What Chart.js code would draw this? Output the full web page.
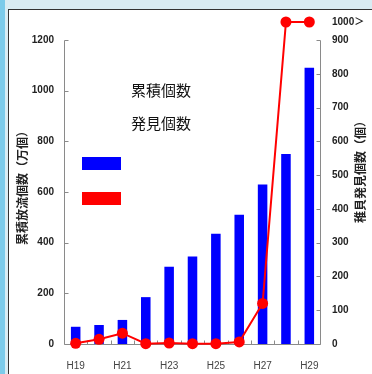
<!DOCTYPE html>
<html>
<head>
<meta charset="utf-8">
<script src="https://cdn.jsdelivr.net/npm/chart.js@4"></script>
<style>
  html, body { margin: 0; padding: 0; }
  body { width: 372px; height: 374px; overflow: hidden; position: relative; background: #d9ecf3; }
  .stripe { position: absolute; left: 0; top: 0; width: 5px; height: 374px; background: #7ccbea; }
  .panel { position: absolute; left: 8px; top: 9px; right: 0; bottom: 0; background: #fff;
           border-left: 1px solid #333; border-top: 1px solid #333; }
  canvas { position: absolute; left: 0; top: 0; }
</style>
</head>
<body>
<div class="stripe"></div>
<div class="panel"></div>
<canvas id="c" width="372" height="374"></canvas>
<script>
// 年度
const years = ['H19', 'H20', 'H21', 'H22', 'H23', 'H24', 'H25', 'H26', 'H27', 'H28', 'H29'];
// 累積放流個数（万個）
const releasedTotal = [68, 75, 95, 185, 305, 345, 435, 510, 630, 750, 1090];
// 稚貝発見個数（個）— 1000 は「1000個以上」
const spatFound = [2, 14, 32, 1, 3, 1, 1, 6, 120, 1000, 1000];
// 目盛
const leftTicks = [0, 200, 400, 600, 800, 1000, 1200];
const rightTicks = [0, 100, 200, 300, 400, 500, 600, 700, 800, 900, 1000];
const overflowLabel = '1000＞';
const seriesNames = ['累積個数', '発見個数'];
const leftTitle = '累積放流個数（万個）';
const rightTitle = '稚貝発見個数（個）';

const BLUE = '#0000ff';
const RED = '#ff0000';
const AXIS = '#8a8a8a';
const FONT = '"Liberation Sans", "Noto Sans CJK JP", sans-serif';
const JFONT = '"Noto Sans CJK JP", "Liberation Sans", sans-serif';

// Linear scale with a compressed band above the last regular tick
// (used for the "1000＞" overflow row on top of the axis).
const BREAK_FRAC = 304 / 322;
class BreakLinearScale extends Chart.LinearScale {
  breakValue() { return this.options.breakAt; }
  getPixelForValue(value) {
    const b = this.breakValue();
    const dec = value <= b
      ? (value - this.min) / (b - this.min) * BREAK_FRAC
      : BREAK_FRAC + (value - b) / (this.max - b) * (1 - BREAK_FRAC);
    return this.getPixelForDecimal(dec);
  }
  getValueForPixel(pixel) {
    const b = this.breakValue();
    const dec = this.getDecimalForPixel(pixel);
    return dec <= BREAK_FRAC
      ? this.min + dec / BREAK_FRAC * (b - this.min)
      : b + (dec - BREAK_FRAC) / (1 - BREAK_FRAC) * (this.max - b);
  }
}
BreakLinearScale.id = 'breakLinear';
Chart.register(BreakLinearScale);

const axesAndLegend = {
  id: 'axesAndLegend',
  beforeDatasetsDraw(chart) {
    const { ctx, chartArea: a, scales: { x, yL, yR } } = chart;
    const L = Math.round(a.left) + 0.5;
    const R = Math.round(a.right) - 0.5;
    const B = Math.round(a.bottom) + 0.5;
    ctx.save();
    ctx.strokeStyle = AXIS;
    ctx.lineWidth = 1;
    ctx.beginPath();
    ctx.moveTo(L, Math.round(yL.getPixelForValue(leftTicks[leftTicks.length - 1])) + 0.5);
    ctx.lineTo(L, B);
    ctx.lineTo(R, B);
    ctx.lineTo(R, Math.round(yR.getPixelForValue(rightTicks[rightTicks.length - 2])) + 0.5);
    leftTicks.forEach(v => {
      const y = Math.round(yL.getPixelForValue(v)) + 0.5;
      ctx.moveTo(L, y); ctx.lineTo(L + 4, y);
    });
    rightTicks.slice(0, -1).forEach(v => {
      const y = Math.round(yR.getPixelForValue(v)) + 0.5;
      ctx.moveTo(R, y); ctx.lineTo(R - 4, y);
    });
    for (let i = 1; i < years.length; i++) {
      const xx = Math.round((x.getPixelForValue(i - 1) + x.getPixelForValue(i)) / 2) + 0.5;
      ctx.moveTo(xx, B); ctx.lineTo(xx, B - 4);
    }
    ctx.stroke();
    ctx.restore();
  },
  afterDraw(chart) {
    const { ctx } = chart;
    ctx.save();
    // axis titles, both reading bottom-to-top
    ctx.fillStyle = '#222';
    ctx.font = 'bold 12px ' + JFONT;
    ctx.textAlign = 'center';
    ctx.textBaseline = 'middle';
    [[leftTitle, 22, 185], [rightTitle, 360, 169]].forEach(([t, cx, cy]) => {
      ctx.save();
      ctx.translate(cx, cy);
      ctx.rotate(-Math.PI / 2);
      ctx.fillText(t, 0, 0);
      ctx.restore();
    });
    // legend: names stacked above, colour keys stacked below
    ctx.font = '15px ' + JFONT;
    ctx.textAlign = 'left';
    ctx.fillStyle = '#111';
    ctx.fillText(seriesNames[0], 131, 90);
    ctx.fillText(seriesNames[1], 131, 123);
    ctx.fillStyle = BLUE;
    ctx.fillRect(82, 157, 39, 13);
    ctx.fillStyle = RED;
    ctx.fillRect(82, 192, 39, 13);
    ctx.restore();
  }
};

new Chart(document.getElementById('c'), {
  data: {
    labels: years,
    datasets: [
      {
        type: 'line',
        label: seriesNames[1],
        data: spatFound,
        yAxisID: 'yR',
        borderColor: RED,
        backgroundColor: RED,
        borderWidth: 2,
        pointRadius: 5.5,
        pointBackgroundColor: RED,
        pointBorderColor: RED,
        pointBorderWidth: 0,
        tension: 0,
        clip: false,
        order: 0
      },
      {
        type: 'bar',
        label: seriesNames[0],
        data: releasedTotal,
        yAxisID: 'yL',
        backgroundColor: BLUE,
        borderWidth: 0,
        categoryPercentage: 0.8,
        barPercentage: 0.51,
        order: 1
      }
    ]
  },
  options: {
    responsive: false,
    animation: false,
    devicePixelRatio: 1,
    layout: { padding: { top: 22, left: 0, right: 0, bottom: 0 } },
    plugins: { legend: { display: false }, tooltip: { enabled: false } },
    scales: {
      x: {
        offset: true,
        grid: { display: false, drawTicks: false },
        border: { display: false },
        afterFit: s => { s.height = 30; },
        ticks: {
          autoSkip: false,
          maxRotation: 0,
          padding: 16,
          color: '#444',
          font: { family: FONT, size: 10 },
          callback: (v, i) => (i % 2 === 0 ? years[i] : '')
        }
      },
      yL: {
        type: 'breakLinear',
        position: 'left',
        breakAt: 1200,
        min: 0,
        max: 1300,
        grid: { display: false, drawTicks: false },
        border: { display: false },
        afterFit: s => { s.width = 64; },
        afterBuildTicks: s => { s.ticks = leftTicks.map(v => ({ value: v })); },
        ticks: {
          padding: 10,
          color: '#222',
          font: { family: FONT, size: 10, weight: 'bold' },
          callback: v => String(v)
        }
      },
      yR: {
        type: 'breakLinear',
        position: 'right',
        breakAt: 900,
        min: 0,
        max: 1000,
        grid: { display: false, drawTicks: false },
        border: { display: false },
        afterFit: s => { s.width = 51; },
        afterBuildTicks: s => { s.ticks = rightTicks.map(v => ({ value: v })); },
        ticks: {
          padding: 11,
          color: '#222',
          font: { family: FONT, size: 10, weight: 'bold' },
          callback: v => (v === rightTicks[rightTicks.length - 1] ? overflowLabel : String(v))
        }
      }
    }
  },
  plugins: [axesAndLegend]
});
</script>
</body>
</html>
